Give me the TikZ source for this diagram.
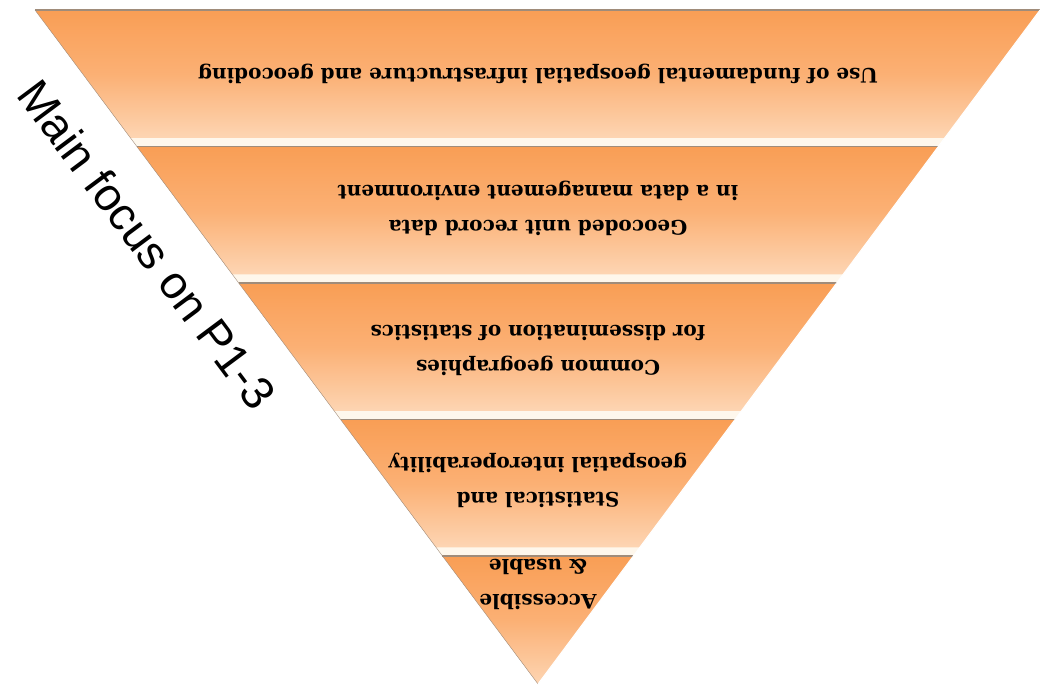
\documentclass[tikz,border=0pt]{standalone}
\usepackage{fontspec}
\setmainfont{DejaVu Serif}
\newfontfamily\sidefont{Liberation Sans}
\usepackage{tikz}
\usetikzlibrary{calc}

\definecolor{bandtop}{HTML}{F99E55}
\definecolor{bandmid}{HTML}{FBB074}
\definecolor{bandbot}{HTML}{FDD5B3}
\definecolor{gapcol}{HTML}{FEF7EC}
\definecolor{edgecol}{HTML}{A08C7A}

\tikzset{
  band/.style={top color=bandtop, bottom color=bandbot, middle color=bandmid},
  bandtext/.style={font=\fontsize{20}{35}\selectfont\bfseries, align=center, rotate=180, text=black},
  sidelabel/.style={font=\sidefont\fontsize{46}{50}\selectfont, rotate=-53.27}
}

\begin{document}
\begin{tikzpicture}[x=1pt,y=1pt]
\useasboundingbox (0,0) rectangle (1058,686);
\coordinate (TL) at (35,676);
\coordinate (TR) at (1040,676);
\coordinate (A) at (538,2);

\fill[gapcol] (TL) -- (TR) -- (A) -- cycle;

\foreach \i in {0,...,4}{
  \pgfmathsetmacro\ta{\i*136.5/674}
  \pgfmathsetmacro\tb{min(1,(\i*136.5+128)/674)}
  \shade[band] ($(TL)!\ta!(A)$) -- ($(TR)!\ta!(A)$) -- ($(TR)!\tb!(A)$) -- ($(TL)!\tb!(A)$) -- cycle;
  \draw[edgecol, line width=1.2pt] ($(TL)!\ta!(A)$) -- ($(TR)!\ta!(A)$);
}
\draw[edgecol] (TL) -- (A);
\draw[white, line width=1pt] (TR) -- (A);

\node[bandtext] (use) at (538,612) {Use of fundamental geospatial infrastructure and geocoding};
\node[bandtext] (geocoded) at (538,478) {Geocoded unit record data\\in a data management environment};
\node[bandtext] (common) at (538,336) {Common geographies\\for dissemination of statistics};
\node[bandtext] (interop) at (538,206) {Statistical and\\geospatial interoperability};
\node[bandtext] (usable) at (538,102) {Accessible\\\& usable};

\node[sidelabel] (focus) at ($(TL)!0.303!(A)!50pt!-90:(A)$) {Main focus on P1-3};
\end{tikzpicture}
\end{document}
